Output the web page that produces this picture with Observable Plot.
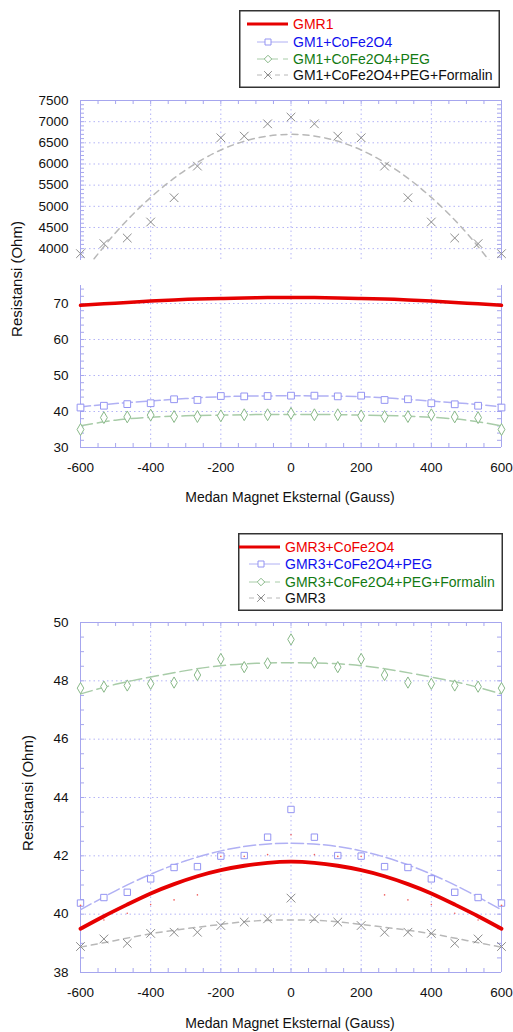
<!DOCTYPE html>
<html><head><meta charset="utf-8">
<script src="https://cdn.jsdelivr.net/npm/d3@7"></script>
<script src="https://cdn.jsdelivr.net/npm/@observablehq/plot@0.6"></script>
<style>
body{margin:0;background:#fff;font-family:"Liberation Sans",Arial,sans-serif;}
#root{position:relative;width:513px;height:1032px;overflow:hidden;background:#fff;}
.ytitle{position:absolute;transform:translate(-50%,-50%) rotate(-90deg);font-size:15px;white-space:nowrap;color:#111;}
.xtitle{position:absolute;transform:translate(-50%,-50%);font-size:14px;white-space:nowrap;color:#111;}
</style></head>
<body><div id="root"></div>
<script>
// ---------- data ----------
const field = [-600,-533.3,-466.7,-400,-333.3,-266.7,-200,-133.3,-66.7,0,66.7,133.3,200,266.7,333.3,400,466.7,533.3,600];
const fitField = [-600,-500,-400,-300,-200,-100,0,100,200,300,400,500,600];
const xTickLabels = [-600,-400,-200,0,200,400,600];

// Top chart
const topLabels = ["GMR1","GM1+CoFe2O4","GM1+CoFe2O4+PEG","GM1+CoFe2O4+PEG+Formalin"];
const gmr1 = [69.5,69.9,70.3,70.7,71.0,71.25,71.4,71.55,71.65,71.7,71.65,71.55,71.4,71.25,71.0,70.7,70.3,69.9,69.5];
const gm1Co = [41.1,41.6,42.05,42.3,43.4,43.2,44.3,44.2,44.3,44.4,44.4,44.2,44.4,43.2,43.4,42.3,42.0,41.6,41.1];
const gm1CoFit = [41.3,42.2,42.9,43.6,44.1,44.3,44.35,44.3,44.1,43.6,42.9,42.2,41.3];
const gm1Peg = [35.0,38.3,38.5,39.0,38.6,38.6,38.8,39.1,39.1,39.45,39.1,39.1,38.8,38.6,38.6,39.1,38.5,38.3,35.0];
const gm1PegFit = [36.0,37.6,38.4,38.8,39.0,39.15,39.2,39.15,39.0,38.8,38.4,37.6,36.0];
const gm1Form = [3882,4118,4251,4629,5203,5950,6619,6658,6949,7107,6949,6658,6619,5950,5203,4629,4251,4118,3882];
const gm1FormFit = [3350,4375,5210,5860,6330,6610,6700,6610,6330,5860,5210,4375,3350];
const topUpperTicks = [4000,4500,5000,5500,6000,6500,7000,7500];
const topLowerTicks = [30,40,50,60,70];

// Bottom chart
const botLabels = ["GMR3+CoFe2O4","GMR3+CoFe2O4+PEG","GMR3+CoFe2O4+PEG+Formalin","GMR3"];
const gmr3Co = [39.5,39.93,40.33,40.71,41.03,41.3,41.51,41.66,41.76,41.8,41.76,41.66,41.51,41.3,41.03,40.71,40.33,39.93,39.5];
const gmr3CoPts = [40.3,39.8,40.03,40.33,40.49,40.66,41.98,41.98,42.04,42.72,42.04,41.98,41.98,40.66,40.49,40.33,40.03,39.8,40.3];
const gmr3Peg = [40.38,40.57,40.75,41.21,41.6,41.63,41.99,42.01,42.64,43.59,42.64,42.01,41.99,41.63,41.6,41.21,40.75,40.57,40.38];
const gmr3PegFit = [40.15,40.8,41.37,41.83,42.17,42.37,42.43,42.37,42.17,41.83,41.37,40.8,40.15];
const gmr3Form = [47.75,47.8,47.84,47.9,47.94,48.2,48.75,48.47,48.6,49.42,48.62,48.47,48.75,48.2,47.94,47.9,47.84,47.8,47.75];
const gmr3FormFit = [47.55,47.88,48.13,48.35,48.52,48.6,48.62,48.6,48.52,48.35,48.13,47.88,47.55];
const gmr3 = [38.89,39.15,39.0,39.34,39.38,39.38,39.61,39.73,39.84,40.55,39.84,39.73,39.61,39.38,39.38,39.34,39.0,39.15,38.89];
const gmr3Fit = [38.87,39.1,39.33,39.5,39.65,39.77,39.8,39.77,39.65,39.5,39.33,39.1,38.87];
const botTicks = [38,40,42,44,46,48,50];

// ---------- styling ----------
const W = 513, ML = 80, MR = 12, PW = W - ML - MR;
const gridC = "#b4b4f6", frameC = "#a6a6ee", tickC = "#a6a6ee";
const RED = "#e60000", BLUEM = "#9494f2", BLUEL = "#b0b0f4", GREENM = "#88b888", GREENL = "#a8cca8", GRAYM = "#8c8c8c", GRAYL = "#b8b8b8";
const FONT = "'Liberation Sans', Arial, sans-serif";
const root = document.getElementById("root");
const rows = (xs, ys) => xs.map((x, i) => ({x, y: ys[i]}));
const xMinor = d3.range(-600, 601, 50);

function makePlot({top, height, mt, mb, yDomain, yTicks, yGrid, yMinor, topFrame, bottomFrame, xAxis, marks}) {
  const ph = height - mt - mb;
  const deco = [
    Plot.ruleX([-400,-200,0,200,400], {stroke: gridC, strokeDasharray: "1.5,3"}),
    Plot.ruleY(yGrid, {stroke: gridC, strokeDasharray: "1.5,3"}),
    Plot.tickY(yMinor, {y: d => d, stroke: tickC, insetRight: PW - 4}),
    Plot.tickY(yMinor, {y: d => d, stroke: tickC, insetLeft: PW - 4}),
    Plot.ruleX([-600, 600], {stroke: frameC})
  ];
  if (topFrame) deco.push(Plot.tickX(xMinor, {x: d => d, stroke: tickC, insetBottom: ph - 4}), Plot.ruleY([yDomain[1]], {stroke: frameC}));
  if (bottomFrame) deco.push(Plot.tickX(xMinor, {x: d => d, stroke: tickC, insetTop: ph - 4}), Plot.ruleY([yDomain[0]], {stroke: frameC}));
  const axes = [Plot.axisY(yTicks, {tickSize: 0, tickPadding: 12, tickFormat: d => String(d), fill: "#111", label: null})];
  if (xAxis) axes.push(Plot.axisX(xTickLabels, {tickSize: 0, tickPadding: 15, tickFormat: d => String(d), fill: "#111", label: null}));
  const p = Plot.plot({
    width: W, height, marginLeft: ML, marginRight: MR, marginTop: mt, marginBottom: mb,
    x: {domain: [-600, 600], axis: null, label: null},
    y: {domain: yDomain, axis: null, label: null},
    style: {fontSize: "13.5px", fontFamily: FONT, background: "transparent", overflow: "visible"},
    marks: [...deco, ...marks, ...axes]
  });
  p.style.position = "absolute"; p.style.left = "0px"; p.style.top = top + "px";
  root.append(p);
}

// ---------- top chart, upper segment ----------
makePlot({
  top: 90, height: 180, mt: 10, mb: 10, yDomain: [3720, 7500],
  yTicks: topUpperTicks, yGrid: [4000,4500,5000,5500,6000,6500,7000],
  yMinor: d3.range(3800, 7500, 100), topFrame: true, bottomFrame: false, xAxis: false,
  marks: [
    Plot.line(rows(fitField, gm1FormFit), {x: "x", y: "y", stroke: GRAYL, strokeDasharray: "6,5", curve: "natural", clip: true}),
    Plot.dot(rows(field, gm1Form), {x: "x", y: "y", symbol: "times", r: 4, stroke: GRAYM, strokeWidth: 1})
  ]
});

// ---------- top chart, lower segment ----------
makePlot({
  top: 275, height: 212, mt: 10, mb: 40, yDomain: [30, 75],
  yTicks: topLowerTicks, yGrid: [40,50,60,70],
  yMinor: d3.range(32, 75, 2), topFrame: false, bottomFrame: true, xAxis: true,
  marks: [
    Plot.line(rows(fitField, gm1CoFit), {x: "x", y: "y", stroke: BLUEL, strokeDasharray: "10,4", curve: "natural", clip: true}),
    Plot.line(rows(fitField, gm1PegFit), {x: "x", y: "y", stroke: GREENL, strokeDasharray: "12,5", curve: "natural", clip: true}),
    Plot.dot(rows(field, gm1Co), {x: "x", y: "y", symbol: "square", r: 3.8, stroke: BLUEM, fill: "white", strokeWidth: 1}),
    Plot.dot(rows(field, gm1Peg), {x: "x", y: "y", symbol: "diamond", r: 3.6, stroke: GREENM, fill: "white", strokeWidth: 1}),
    Plot.line(rows(field, gmr1), {x: "x", y: "y", stroke: RED, strokeWidth: 3.5, curve: "natural"})
  ]
});

// ---------- bottom chart ----------
makePlot({
  top: 610, height: 392, mt: 12, mb: 30, yDomain: [38, 50],
  yTicks: botTicks, yGrid: [40,42,44,46,48],
  yMinor: d3.range(38.5, 50, 0.5), topFrame: true, bottomFrame: true, xAxis: true,
  marks: [
    Plot.line(rows(fitField, gmr3FormFit), {x: "x", y: "y", stroke: GREENL, strokeDasharray: "12,5", curve: "natural", clip: true}),
    Plot.line(rows(fitField, gmr3PegFit), {x: "x", y: "y", stroke: BLUEL, strokeDasharray: "12,4", curve: "natural", clip: true}),
    Plot.line(rows(fitField, gmr3Fit), {x: "x", y: "y", stroke: GRAYL, strokeDasharray: "6,5", curve: "natural", clip: true}),
    Plot.dot(rows(field, gmr3Form), {x: "x", y: "y", symbol: "diamond", r: 3.4, stroke: GREENM, fill: "white", strokeWidth: 1}),
    Plot.dot(rows(field, gmr3Peg), {x: "x", y: "y", symbol: "square", r: 3.6, stroke: BLUEM, fill: "white", strokeWidth: 1}),
    Plot.dot(rows(field, gmr3), {x: "x", y: "y", symbol: "times", r: 4, stroke: GRAYM, strokeWidth: 1}),
    Plot.dot(rows(field, gmr3CoPts), {x: "x", y: "y", r: 0.8, fill: "#f06060", stroke: "none"}),
    Plot.line(rows(field, gmr3Co), {x: "x", y: "y", stroke: RED, strokeWidth: 3.8, curve: "natural"})
  ]
});

// ---------- titles ----------
function addText(cls, text, x, y) {
  const d = document.createElement("div");
  d.className = cls; d.textContent = text;
  d.style.left = x + "px"; d.style.top = y + "px";
  root.append(d);
}
addText("ytitle", "Resistansi (Ohm)", 16, 279);
addText("xtitle", "Medan Magnet Eksternal (Gauss)", 290, 497);
addText("ytitle", "Resistansi (Ohm)", 27, 793);
addText("xtitle", "Medan Magnet Eksternal (Gauss)", 290, 1023);

// ---------- legends ----------
const styles = [
  {stroke: RED, width: 3, dash: null, symbol: null, text: "#ee0000", mstroke: null},
  {stroke: BLUEL, width: 1, dash: null, symbol: d3.symbolSquare, text: "#1010ee", mstroke: BLUEM},
  {stroke: GREENL, width: 1, dash: "8,5", symbol: d3.symbolDiamond2, text: "#137a13", mstroke: GREENM},
  {stroke: GRAYL, width: 1, dash: "5,4", symbol: d3.symbolTimes, text: "#111", mstroke: GRAYM}
];
function legend(labels, box, sx0, sx1, mx, tx, ys) {
  const svg = d3.create("svg").attr("width", box.w).attr("height", box.h)
    .style("position", "absolute").style("left", box.x + "px").style("top", box.y + "px");
  svg.append("rect").attr("x", 0.75).attr("y", 0.75).attr("width", box.w - 1.5).attr("height", box.h - 1.5)
    .attr("fill", "#fff").attr("stroke", "#333").attr("stroke-width", 1.5);
  labels.forEach((lab, i) => {
    const s = styles[i], y = ys[i] - box.y;
    const x0 = (s.symbol ? sx0 + 10 : sx0) - box.x, x1 = sx1 - box.x;
    svg.append("line").attr("x1", x0).attr("x2", x1).attr("y1", y).attr("y2", y)
      .attr("stroke", s.stroke).attr("stroke-width", s.width).attr("stroke-dasharray", s.dash);
    if (s.symbol) {
      svg.append("path").attr("d", d3.symbol(s.symbol, s.symbol === d3.symbolTimes ? 40 : 36)())
        .attr("transform", `translate(${mx - box.x},${y})`)
        .attr("fill", s.symbol === d3.symbolTimes ? "none" : "white").attr("stroke", s.mstroke).attr("stroke-width", 1);
    }
    svg.append("text").attr("x", tx - box.x).attr("y", y).attr("dy", "0.35em")
      .attr("fill", s.text).attr("font-size", 14).attr("font-family", FONT).text(lab);
  });
  root.append(svg.node());
}
legend(topLabels, {x: 239, y: 10, w: 261, h: 78}, 247, 288, 268, 293, [24, 42, 59, 75]);
legend(botLabels, {x: 238, y: 533, w: 265, h: 78}, 239, 280, 261, 285, [547, 564, 582, 598]);
</script>
</body></html>
